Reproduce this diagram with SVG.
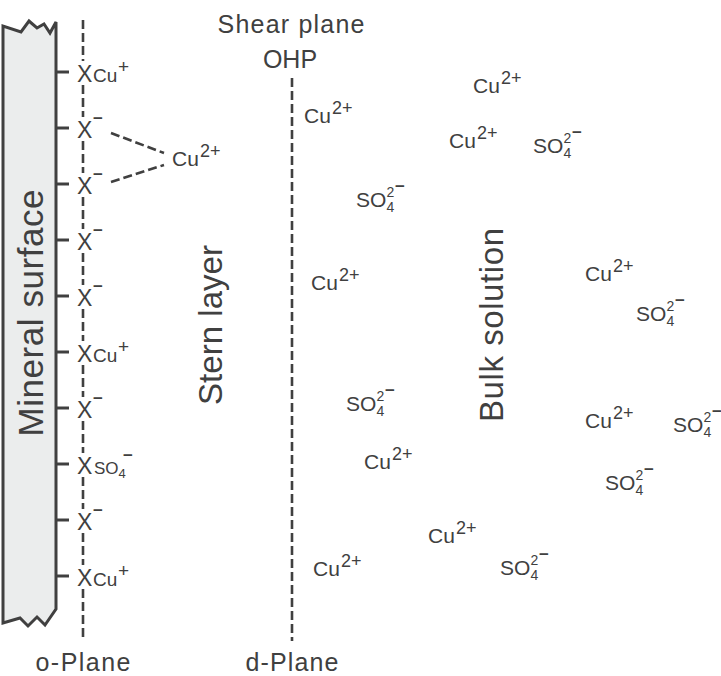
<svg xmlns="http://www.w3.org/2000/svg" width="721" height="676" viewBox="0 0 721 676">
<style>
text{font-family:"Liberation Sans",Arial,sans-serif;fill:#404040}
.lbl{font-size:25px;text-anchor:middle}
.big{font-size:33px;text-anchor:middle}
.ion{font-size:21px}
.sup{font-size:18px}
.idx{font-size:14px}
.mn{font-size:17px;font-weight:bold}
.x{font-size:23px}
.xs{font-size:19px}
.xp{font-size:19px}
.xsm{font-size:17px}
.tick{stroke:#404040;stroke-width:3}
.dash{stroke:#404040;stroke-width:2.6;fill:none;stroke-dasharray:9 4}
</style>
<rect width="721" height="676" fill="#ffffff"/>
<g id="mineral">
<path d="M3,623 L3,26 L21,32 L29,21 L37,28 L44,24 L50,33 L56,22 L56,609 L45,625 L37,617 L28,626 L20,618 Z" fill="#ebeded" stroke="#404040" stroke-width="3" stroke-linejoin="miter"/>
<text transform="translate(43,313) rotate(-90)" font-size="35" text-anchor="middle" textLength="247" lengthAdjust="spacing">Mineral surface</text>
</g>
<g id="connectors">
<line class="dash" x1="83" y1="20" x2="83" y2="61"/>
<line class="dash" x1="83" y1="85" x2="83" y2="117"/>
<line class="dash" x1="83" y1="141" x2="83" y2="173"/>
<line class="dash" x1="83" y1="197" x2="83" y2="229"/>
<line class="dash" x1="83" y1="253" x2="83" y2="285"/>
<line class="dash" x1="83" y1="309" x2="83" y2="341"/>
<line class="dash" x1="83" y1="365" x2="83" y2="397"/>
<line class="dash" x1="83" y1="421" x2="83" y2="453"/>
<line class="dash" x1="83" y1="477" x2="83" y2="509"/>
<line class="dash" x1="83" y1="533" x2="83" y2="565"/>
<line class="dash" x1="83" y1="589" x2="83" y2="641"/>
<line class="dash" x1="292" y1="78" x2="292" y2="641"/>
<line class="dash" x1="111" y1="133" x2="164" y2="153" stroke-dasharray="9 5"/>
<line class="dash" x1="111" y1="182" x2="164" y2="165" stroke-dasharray="9 5"/>
</g>
<g id="site-1" transform="translate(0,72)"><line class="tick" x1="55" y1="0" x2="69" y2="0"/><text class="x" x="77" y="9.5">X</text><text class="xs" x="93" y="9.5">Cu</text><text class="xp" x="118" y="1">+</text></g>
<g id="site-2" transform="translate(0,128)"><line class="tick" x1="55" y1="0" x2="69" y2="0"/><text class="x" x="77" y="9.5">X</text><text class="mn" x="93" y="-4.5">−</text></g>
<g id="site-3" transform="translate(0,184)"><line class="tick" x1="55" y1="0" x2="69" y2="0"/><text class="x" x="77" y="9.5">X</text><text class="mn" x="93" y="-4.5">−</text></g>
<g id="site-4" transform="translate(0,240)"><line class="tick" x1="55" y1="0" x2="69" y2="0"/><text class="x" x="77" y="9.5">X</text><text class="mn" x="93" y="-4.5">−</text></g>
<g id="site-5" transform="translate(0,296)"><line class="tick" x1="55" y1="0" x2="69" y2="0"/><text class="x" x="77" y="9.5">X</text><text class="mn" x="93" y="-4.5">−</text></g>
<g id="site-6" transform="translate(0,352)"><line class="tick" x1="55" y1="0" x2="69" y2="0"/><text class="x" x="77" y="9.5">X</text><text class="xs" x="93" y="9.5">Cu</text><text class="xp" x="118" y="1">+</text></g>
<g id="site-7" transform="translate(0,408)"><line class="tick" x1="55" y1="0" x2="69" y2="0"/><text class="x" x="77" y="9.5">X</text><text class="mn" x="93" y="-4.5">−</text></g>
<g id="site-8" transform="translate(0,464)"><line class="tick" x1="55" y1="0" x2="69" y2="0"/><text class="x" x="77" y="9.5">X</text><text class="xsm" x="94" y="9.5">SO</text><text font-size="13" x="118.5" y="14">4</text><text class="mn" x="123" y="-3.5">−</text></g>
<g id="site-9" transform="translate(0,520)"><line class="tick" x1="55" y1="0" x2="69" y2="0"/><text class="x" x="77" y="9.5">X</text><text class="mn" x="93" y="-4.5">−</text></g>
<g id="site-10" transform="translate(0,576)"><line class="tick" x1="55" y1="0" x2="69" y2="0"/><text class="x" x="77" y="9.5">X</text><text class="xs" x="93" y="9.5">Cu</text><text class="xp" x="118" y="1">+</text></g>
<g id="cu-bridge" transform="translate(172,166)"><text class="ion">Cu</text><text class="sup" x="28" y="-9">2+</text></g>
<g id="labels">
<text class="lbl" x="291" y="33" textLength="147" lengthAdjust="spacing">Shear plane</text>
<text class="lbl" x="290" y="68">OHP</text>
<text class="lbl" x="83" y="671" textLength="95" lengthAdjust="spacing">o-Plane</text>
<text class="lbl" x="292" y="671" textLength="93" lengthAdjust="spacing">d-Plane</text>
<text class="big" transform="translate(222,325) rotate(-90)" font-size="32" textLength="160" lengthAdjust="spacing">Stern layer</text>
<text class="big" transform="translate(503,325) rotate(-90)" font-size="34" textLength="194" lengthAdjust="spacing">Bulk solution</text>
</g>
<g id="cu-1" transform="translate(304,123)"><text class="ion">Cu</text><text class="sup" x="28" y="-9">2+</text></g>
<g id="cu-2" transform="translate(473,93)"><text class="ion">Cu</text><text class="sup" x="28" y="-9">2+</text></g>
<g id="cu-3" transform="translate(449,148)"><text class="ion">Cu</text><text class="sup" x="28" y="-9">2+</text></g>
<g id="cu-4" transform="translate(311,290)"><text class="ion">Cu</text><text class="sup" x="28" y="-9">2+</text></g>
<g id="cu-5" transform="translate(585,281)"><text class="ion">Cu</text><text class="sup" x="28" y="-9">2+</text></g>
<g id="cu-6" transform="translate(585,428)"><text class="ion">Cu</text><text class="sup" x="28" y="-9">2+</text></g>
<g id="cu-7" transform="translate(364,469)"><text class="ion">Cu</text><text class="sup" x="28" y="-9">2+</text></g>
<g id="cu-8" transform="translate(428,543)"><text class="ion">Cu</text><text class="sup" x="28" y="-9">2+</text></g>
<g id="cu-9" transform="translate(313,576)"><text class="ion">Cu</text><text class="sup" x="28" y="-9">2+</text></g>
<g id="so4-1" transform="translate(533,153)"><text class="ion">SO</text><text class="idx" x="30.5" y="5">4</text><text class="idx" x="30.5" y="-10">2</text><text class="mn" x="39" y="-15">−</text></g>
<g id="so4-2" transform="translate(356,207)"><text class="ion">SO</text><text class="idx" x="30.5" y="5">4</text><text class="idx" x="30.5" y="-10">2</text><text class="mn" x="39" y="-15">−</text></g>
<g id="so4-3" transform="translate(636,321)"><text class="ion">SO</text><text class="idx" x="30.5" y="5">4</text><text class="idx" x="30.5" y="-10">2</text><text class="mn" x="39" y="-15">−</text></g>
<g id="so4-4" transform="translate(346,411)"><text class="ion">SO</text><text class="idx" x="30.5" y="5">4</text><text class="idx" x="30.5" y="-10">2</text><text class="mn" x="39" y="-15">−</text></g>
<g id="so4-5" transform="translate(673,432)"><text class="ion">SO</text><text class="idx" x="30.5" y="5">4</text><text class="idx" x="30.5" y="-10">2</text><text class="mn" x="39" y="-15">−</text></g>
<g id="so4-6" transform="translate(605,490)"><text class="ion">SO</text><text class="idx" x="30.5" y="5">4</text><text class="idx" x="30.5" y="-10">2</text><text class="mn" x="39" y="-15">−</text></g>
<g id="so4-7" transform="translate(500,575)"><text class="ion">SO</text><text class="idx" x="30.5" y="5">4</text><text class="idx" x="30.5" y="-10">2</text><text class="mn" x="39" y="-15">−</text></g>
</svg>
